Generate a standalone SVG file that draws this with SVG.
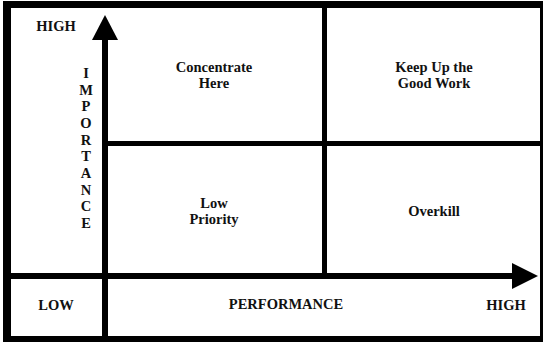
<svg xmlns="http://www.w3.org/2000/svg" width="544" height="342" viewBox="0 0 544 342">
<style>
text{font-family:"Liberation Serif","Times New Roman",serif;font-weight:bold;font-size:14.5px;fill:#111;text-anchor:middle}
.ax{fill:#000}
</style>
<rect x="0" y="0" width="544" height="342" fill="#fff"/>
<g id="frame">
<path d="M3,1H543V342H3Z M11,8V336H540V8Z" fill="#000" fill-rule="evenodd"/>
</g>
<g id="connectors">
<rect class="ax" x="322" y="8" width="5" height="266"/>
<rect class="ax" x="107" y="141" width="433" height="5"/>
<rect class="ax" x="102" y="37" width="6" height="300"/>
<polygon class="ax" points="105,15 92,40 118,40"/>
<rect class="ax" x="11" y="273" width="503" height="6"/>
<polygon class="ax" points="538,276 512,263 512,289"/>
</g>
<g id="concentrate"><text x="214" y="72">Concentrate</text><text x="214" y="88">Here</text></g>
<g id="keepup"><text x="434" y="72">Keep Up the</text><text x="434" y="88">Good Work</text></g>
<g id="lowpriority"><text x="214" y="208">Low</text><text x="214" y="224">Priority</text></g>
<g id="overkill"><text x="434" y="216">Overkill</text></g>
<g id="high-y"><text x="56" y="31">HIGH</text></g>
<g id="importance">
<text x="86" y="78">I</text><text x="86" y="94.7">M</text><text x="86" y="111.3">P</text><text x="86" y="128">O</text><text x="86" y="144.7">R</text><text x="86" y="161.3">T</text><text x="86" y="178">A</text><text x="86" y="194.7">N</text><text x="86" y="211.3">C</text><text x="86" y="228">E</text>
</g>
<g id="low"><text x="56" y="310">LOW</text></g>
<g id="performance"><text x="286" y="309">PERFORMANCE</text></g>
<g id="high-x"><text x="506" y="310">HIGH</text></g>
</svg>
